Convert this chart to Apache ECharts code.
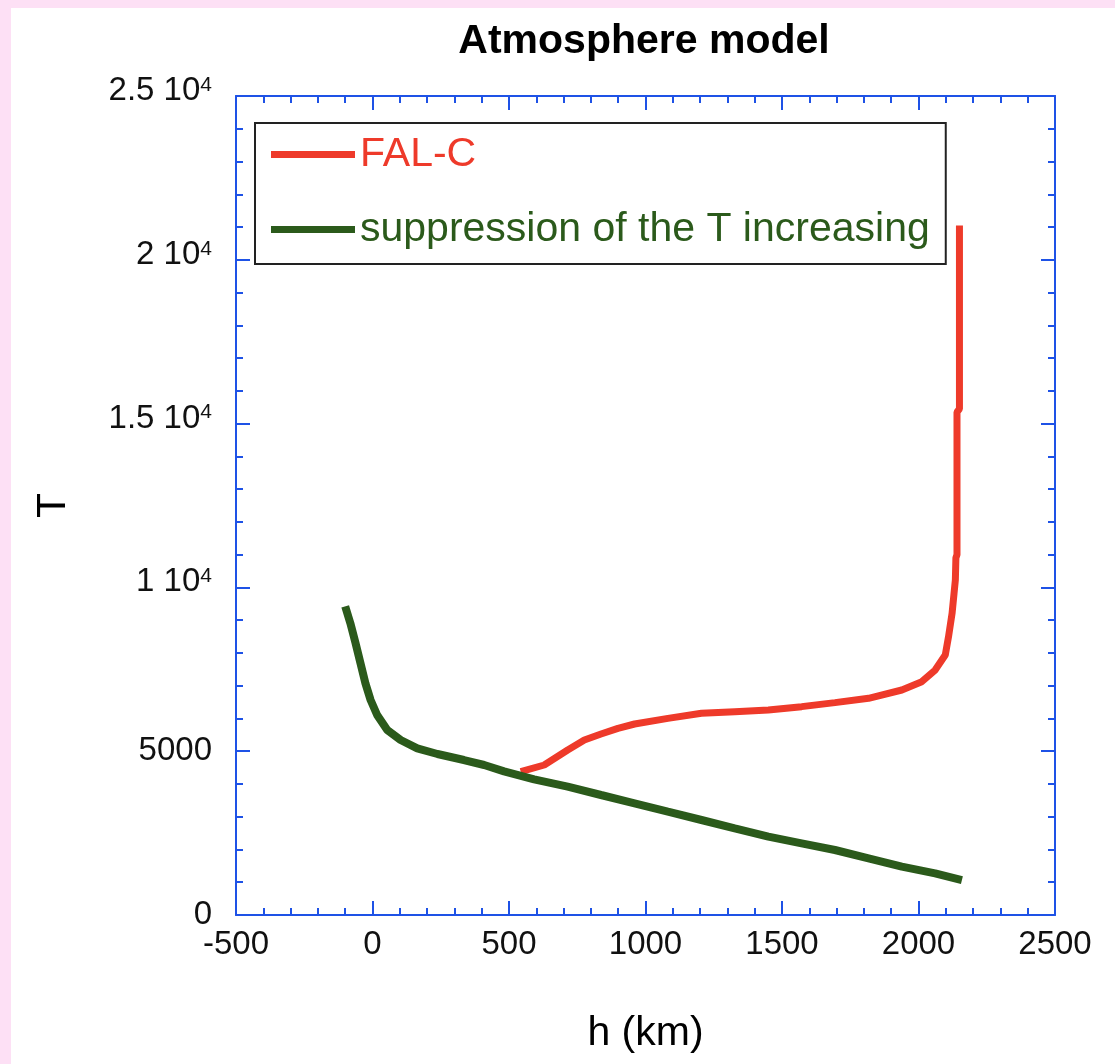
<!DOCTYPE html>
<html>
<head>
<meta charset="utf-8">
<script src="https://cdn.jsdelivr.net/npm/echarts@6/dist/echarts.min.js"></script>
<style>
  html, body { margin: 0; padding: 0; background: #fde0f5; }
  #paper { position: absolute; left: 11px; top: 8px; width: 1104px; height: 1056px; background: #ffffff; }
  #chart { position: absolute; left: 0; top: 0; width: 1115px; height: 1064px; }
</style>
</head>
<body>
<div id="paper"></div>
<div id="chart"></div>
<script>
// ---- data (h in km, T in K) ----
const seriesNames = ['FAL-C', 'suppression of the T increasing'];

const falcH = [543, 629, 715, 776, 837, 899, 960, 1082, 1205, 1327, 1450, 1572, 1694, 1817, 1939, 2012, 2061, 2098, 2110, 2123, 2130, 2135, 2137, 2141, 2141, 2150, 2150];
const falcT = [4375, 4579, 5037, 5342, 5525, 5698, 5830, 6003, 6156, 6207, 6258, 6360, 6482, 6614, 6868, 7122, 7478, 7936, 8495, 9209, 9800, 10226, 10900, 11000, 15350, 15450, 21050];

const suppH = [-100, -81, -62, -44, -26, -7, 17, 54, 103, 164, 238, 335, 409, 482, 592, 715, 837, 960, 1082, 1205, 1327, 1450, 1572, 1694, 1817, 1939, 2061, 2159];
const suppT = [9420, 8903, 8293, 7683, 7073, 6563, 6105, 5647, 5342, 5088, 4914, 4731, 4579, 4386, 4141, 3917, 3663, 3409, 3154, 2900, 2646, 2391, 2188, 1984, 1730, 1475, 1272, 1068];

const xTickValues = [-500, 0, 500, 1000, 1500, 2000, 2500];
const xTickLabels = ['-500', '0', '500', '1000', '1500', '2000', '2500'];
const yTickValues = [0, 5000, 10000, 15000, 20000, 25000];
const yTickLabels = ['0', '5000', '1 10^4', '1.5 10^4', '2 10^4', '2.5 10^4'];

const titleText = 'Atmosphere model';
const xName = 'h (km)';
const yName = 'T';

// ---- styles ----
const RED = '#ee3a2a';
const GREEN = '#2b5a1b';
const BLUE = '#1e52e6';
const FONT = '"Liberation Sans", Arial, Helvetica, sans-serif';

function pairs(xs, ys) { return xs.map((x, i) => [x, ys[i]]); }

function xLabel(v) {
  const i = xTickValues.indexOf(v);
  return i >= 0 ? xTickLabels[i] : '';
}
function yLabel(v) {
  const i = yTickValues.indexOf(v);
  if (i < 0) return '';
  const s = yTickLabels[i];
  const k = s.indexOf('^');
  if (k < 0) return '{m|' + s + '}';
  return '{n|' + s.slice(0, k) + '}{e|' + s.slice(k + 1) + '}';
}

function axisCommon() {
  return {
    axisLine: { show: true, onZero: false, lineStyle: { color: BLUE, width: 2 } },
    axisTick: { show: true, inside: true, length: 14, lineStyle: { color: BLUE, width: 2 } },
    minorTick: { show: true, splitNumber: 5, length: 7, lineStyle: { color: BLUE, width: 2 } },
    splitLine: { show: false },
    minorSplitLine: { show: false }
  };
}

const chart = echarts.init(document.getElementById('chart'), null, { renderer: 'canvas' });

const option = {
  animation: false,
  backgroundColor: 'transparent',
  title: {
    text: titleText,
    left: 644,
    textAlign: 'center',
    top: 21,
    padding: 0,
    textStyle: { fontFamily: FONT, fontSize: 41, fontWeight: 'bold', color: '#000' }
  },
  legend: {
    orient: 'vertical',
    left: 255,
    top: 123,
    padding: [11, 16, 14, 16],
    borderColor: '#222',
    borderWidth: 2,
    backgroundColor: '#fff',
    itemWidth: 84,
    itemHeight: 7,
    itemGap: 34,
    icon: 'rect',
    textStyle: { fontFamily: FONT, fontSize: 41 },
    data: [
      { name: seriesNames[0], textStyle: { color: RED } },
      { name: seriesNames[1], textStyle: { color: GREEN } }
    ]
  },
  grid: { left: 236, top: 96, width: 819, height: 819, containLabel: false },
  xAxis: [
    Object.assign(axisCommon(), {
      type: 'value', position: 'bottom', min: -500, max: 2500, interval: 500,
      axisLabel: { show: true, margin: 13, fontFamily: FONT, fontSize: 33, color: '#111', formatter: xLabel },
      name: xName, nameLocation: 'middle', nameGap: 98,
      nameTextStyle: { fontFamily: FONT, fontSize: 41, color: '#000' }
    }),
    Object.assign(axisCommon(), {
      type: 'value', position: 'top', min: -500, max: 2500, interval: 500,
      axisLabel: { show: false }
    })
  ],
  yAxis: [
    Object.assign(axisCommon(), {
      type: 'value', position: 'left', min: 0, max: 25000, interval: 5000,
      axisLabel: {
        show: true, margin: 24, fontFamily: FONT, color: '#111', formatter: yLabel,
        rich: {
          m: { fontFamily: FONT, fontSize: 33, color: '#111' },
          n: { fontFamily: FONT, fontSize: 33, color: '#111', padding: [0, 0, 10, 0] },
          e: { fontFamily: FONT, fontSize: 21, color: '#111', verticalAlign: 'top' }
        }
      },
      name: yName, nameLocation: 'middle', nameGap: 162, nameRotate: 90,
      nameTextStyle: { fontFamily: FONT, fontSize: 41, color: '#000' }
    }),
    Object.assign(axisCommon(), {
      type: 'value', position: 'right', min: 0, max: 25000, interval: 5000,
      axisLabel: { show: false }
    })
  ],
  series: [
    {
      name: seriesNames[0], type: 'line', xAxisIndex: 0, yAxisIndex: 0,
      data: pairs(falcH, falcT), showSymbol: false, symbol: 'none',
      itemStyle: { color: RED },
      lineStyle: { color: RED, width: 7 }
    },
    {
      name: seriesNames[1], type: 'line', xAxisIndex: 0, yAxisIndex: 0,
      data: pairs(suppH, suppT), showSymbol: false, symbol: 'none',
      itemStyle: { color: GREEN },
      lineStyle: { color: GREEN, width: 8 }
    }
  ]
};

chart.setOption(option);
</script>
</body>
</html>
